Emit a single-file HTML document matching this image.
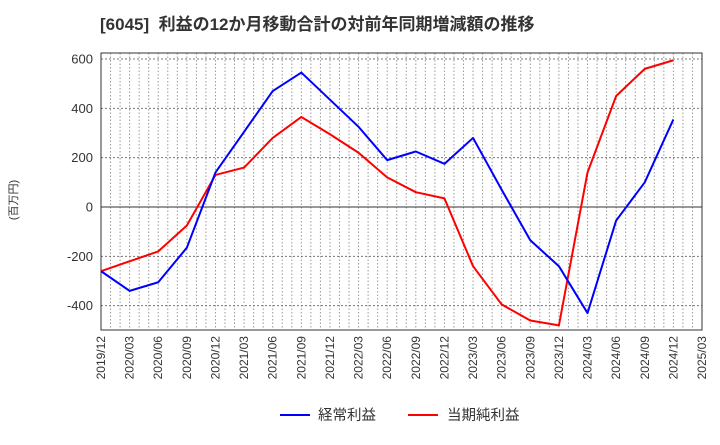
<!DOCTYPE html>
<html><head><meta charset="utf-8"><style>
body{margin:0;background:#fff;font-family:"Liberation Sans","Noto Sans CJK JP",sans-serif}
</style></head><body>
<svg width="720" height="440" xmlns="http://www.w3.org/2000/svg">
<text x="100" y="30" font-size="17" font-weight="bold" fill="#333" xml:space="preserve">[6045]  利益の12か月移動合計の対前年同期増減額の推移</text>
<text transform="translate(17,200) rotate(-90)" font-size="11" fill="#333" text-anchor="middle">(百万円)</text>
<g id="grid"></g><g id="axes"></g><g id="series"></g>
<g>
<line x1="280" y1="415" x2="310" y2="415" stroke="#0000ff" stroke-width="2"/>
<text x="318" y="420" font-size="14.5" fill="#333">経常利益</text>
<line x1="408" y1="415" x2="438" y2="415" stroke="#ff0000" stroke-width="2"/>
<text x="447" y="420" font-size="14.5" fill="#333">当期純利益</text>
</g>
</svg>
<script>
const categories=["2019/12","2020/03","2020/06","2020/09","2020/12","2021/03","2021/06","2021/09","2021/12","2022/03","2022/06","2022/09","2022/12","2023/03","2023/06","2023/09","2023/12","2024/03","2024/06","2024/09","2024/12","2025/03"];
const keijo=[-260,-340,-305,-165,140,305,470,545,435,325,190,225,175,280,70,-135,-240,-430,-55,100,355];
const junri=[-260,-220,-180,-75,130,160,280,365,295,220,120,60,35,-240,-395,-460,-480,140,450,560,595];
const yTicks=[-400,-200,0,200,400,600];
const NS="http://www.w3.org/2000/svg";
const L=101,R=702,T=53,B=330;
const step=(R-L)/(categories.length-1);
const x=i=>L+i*step;
const y=v=>207-v*(148/600);
function mk(t,a,p){const e=document.createElementNS(NS,t);for(const k in a)e.setAttribute(k,a[k]);p.appendChild(e);return e;}
const grid=document.getElementById('grid'),axes=document.getElementById('axes'),ser=document.getElementById('series');
for(let m=1;m<63;m++){const gx=L+m*step/3;const g=mk('line',{x1:gx,x2:gx,y1:T,y2:B,stroke:'#999','stroke-dasharray':'1.5,2','stroke-width':1},grid);

}
yTicks.forEach(v=>{const g=mk('line',{x1:L,x2:R,y1:y(v),y2:y(v),stroke:'#777','stroke-dasharray':'2,2','stroke-width':1},grid);


const t=mk('text',{x:L-8,y:y(v)+4.5,'font-size':13,fill:'#333','text-anchor':'end'},axes);t.textContent=v;

});
const z=mk('line',{x1:L,x2:R,y1:y(0),y2:y(0),stroke:'#333','stroke-width':1},grid);


const fr=mk('rect',{x:L,y:T,width:R-L,height:B-T,fill:'none',stroke:'#333','stroke-width':1},axes);


categories.forEach((c,i)=>{const t=mk('text',{transform:`translate(${x(i)+4},${B+6}) rotate(-90)`,'font-size':12,fill:'#333','text-anchor':'end'},axes);t.textContent=c;

});
function line(d,col,name){const p=mk('polyline',{points:d.map((v,i)=>x(i)+','+y(v)).join(' '),fill:'none',stroke:col,'stroke-width':2,'stroke-linejoin':'round'},ser);

}
line(junri,'#ff0000','series-junri');
line(keijo,'#0000ff','series-keijo');
</script>
</body></html>
